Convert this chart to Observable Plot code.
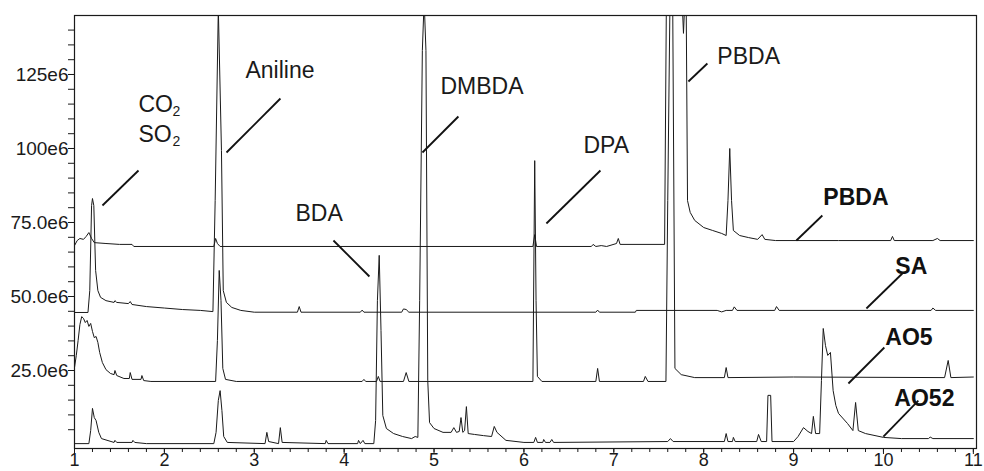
<!DOCTYPE html>
<html><head><meta charset="utf-8">
<script src="https://cdn.jsdelivr.net/npm/d3@7"></script>
<script src="https://cdn.jsdelivr.net/npm/@observablehq/plot@0.6"></script>
<style>html,body{margin:0;padding:0;background:#fff}</style>
</head><body><div id="chart"></div>
<script>
// Retention time (min) and signal (units of 1e6) for each trace
const seriesNames = ["PBDA", "SA", "AO5", "AO52"];

const pbdaTrace = [[1.00,67.2],[1.03,68.9],[1.06,69.6],[1.10,69.3],[1.13,70.3],[1.16,71.6],[1.19,69.6],[1.22,68.2],[1.35,67.9],[1.50,67.6],[1.64,67.6],[1.66,66.9],[2.55,66.9],[2.57,69.6],[2.59,67.9],[2.62,66.9],[6.10,66.9],[6.12,70.9],[6.14,66.9],[6.75,66.9],[6.77,67.6],[6.80,66.9],[6.86,67.2],[6.92,66.9],[7.03,67.9],[7.05,69.6],[7.07,67.6],[7.565,67.6],[7.585,150],[7.76,150],[7.775,138.9],[7.79,150],[7.805,150],[7.82,82.4],[7.85,78.4],[7.90,75.7],[8.00,73.3],[8.10,72.3],[8.20,71.3],[8.25,70.6],[8.27,82.4],[8.29,100.0],[8.31,82.4],[8.33,72.3],[8.40,70.6],[8.50,69.9],[8.60,69.3],[8.65,70.9],[8.68,69.3],[8.80,68.9],[9.50,68.9],[10.08,68.9],[10.10,70.3],[10.12,68.9],[10.55,68.9],[10.60,69.6],[10.63,68.9],[11.00,68.9]];

const saTrace = [[1.00,44.6],[1.15,44.6],[1.17,52.0],[1.19,80.7],[1.20,83.1],[1.215,80.7],[1.235,58.8],[1.26,52.0],[1.29,49.7],[1.35,48.6],[1.44,48.0],[1.45,48.6],[1.47,48.0],[1.60,47.6],[1.62,48.3],[1.64,47.3],[1.80,46.6],[2.00,46.1],[2.20,45.6],[2.40,45.3],[2.54,44.9],[2.565,82.4],[2.60,147.3],[2.635,99.3],[2.655,52.0],[2.69,48.0],[2.75,46.3],[2.85,45.3],[3.00,44.7],[3.48,44.7],[3.50,46.6],[3.52,44.7],[4.18,44.7],[4.20,45.4],[4.22,44.7],[4.64,44.7],[4.66,45.8],[4.69,45.6],[4.72,44.7],[6.80,44.7],[6.82,45.4],[6.84,44.7],[7.24,44.7],[7.25,45.3],[8.15,45.3],[8.20,44.8],[8.25,45.3],[8.32,45.3],[8.34,46.5],[8.37,45.3],[8.79,45.3],[8.81,46.6],[8.84,45.3],[10.53,45.3],[10.55,46.1],[10.58,45.3],[11.00,45.3]];

const ao5Trace = [[1.00,26.0],[1.02,30.1],[1.04,35.1],[1.06,40.5],[1.08,43.2],[1.10,42.6],[1.12,41.2],[1.14,41.9],[1.16,39.9],[1.18,40.9],[1.20,38.2],[1.22,36.1],[1.24,36.5],[1.26,34.5],[1.28,31.1],[1.31,27.7],[1.35,25.3],[1.40,24.0],[1.44,23.6],[1.45,25.0],[1.47,23.3],[1.55,22.3],[1.61,22.3],[1.62,24.3],[1.64,22.0],[1.74,22.0],[1.75,23.3],[1.77,21.6],[1.85,21.3],[2.57,21.3],[2.59,35.1],[2.61,58.8],[2.63,48.6],[2.65,25.7],[2.68,22.0],[2.80,21.3],[4.20,21.3],[4.22,22.0],[4.24,21.3],[4.36,21.3],[4.38,23.0],[4.40,21.3],[4.66,21.3],[4.69,24.3],[4.72,21.3],[6.10,21.3],[6.12,95.9],[6.135,48.6],[6.15,23.0],[6.20,21.3],[6.80,21.3],[6.82,25.7],[6.84,21.3],[7.33,21.3],[7.35,23.0],[7.38,21.3],[7.58,21.3],[7.60,82.4],[7.625,150],[7.655,150],[7.68,25.7],[7.75,23.6],[7.90,22.6],[8.23,22.6],[8.25,26.0],[8.27,22.6],[9.00,22.8],[10.68,22.6],[10.72,28.4],[10.75,22.6],[11.00,22.8]];

const ao52Trace = [[1.00,0.3],[1.16,0.3],[1.18,4.7],[1.20,12.2],[1.22,9.1],[1.24,8.1],[1.27,4.1],[1.30,2.0],[1.44,0.7],[1.45,1.4],[1.47,0.7],[1.64,0.7],[1.65,1.4],[1.67,0.7],[1.80,0.3],[2.55,0.3],[2.575,4.1],[2.60,14.9],[2.62,18.2],[2.64,11.5],[2.66,2.7],[2.70,0.7],[3.12,0.3],[3.14,4.1],[3.16,1.0],[3.27,0.3],[3.29,5.7],[3.31,0.7],[3.79,0.3],[3.80,1.4],[3.82,0.3],[4.15,0.3],[4.16,1.4],[4.18,0.3],[4.21,1.4],[4.23,0.3],[4.33,0.3],[4.35,8.1],[4.37,48.6],[4.39,63.9],[4.41,38.5],[4.43,9.8],[4.47,5.4],[4.55,3.7],[4.65,2.7],[4.75,2.0],[4.79,2.7],[4.82,2.4],[4.84,48.6],[4.87,133.1],[4.89,150],[4.91,133.1],[4.93,21.6],[4.95,7.4],[5.00,5.4],[5.10,4.1],[5.19,4.1],[5.22,5.7],[5.25,4.1],[5.28,4.4],[5.30,9.1],[5.32,4.1],[5.34,4.7],[5.36,12.8],[5.38,3.7],[5.45,3.4],[5.55,3.0],[5.64,2.7],[5.67,6.1],[5.70,4.1],[5.80,1.4],[6.00,0.7],[6.11,0.7],[6.13,2.4],[6.15,0.7],[6.21,0.7],[6.22,1.7],[6.24,0.7],[6.29,0.7],[6.31,1.7],[6.33,0.7],[7.60,1.0],[7.63,2.0],[7.66,1.0],[8.23,1.0],[8.25,3.7],[8.27,1.0],[8.32,1.0],[8.33,2.4],[8.35,1.0],[8.59,1.0],[8.61,3.4],[8.64,1.0],[8.70,1.0],[8.715,16.6],[8.745,16.6],[8.76,1.0],[9.00,1.0],[9.05,2.7],[9.11,5.7],[9.16,4.4],[9.20,3.7],[9.22,9.5],[9.245,3.7],[9.29,3.7],[9.31,21.6],[9.33,39.2],[9.355,33.4],[9.38,30.1],[9.41,31.1],[9.44,18.2],[9.47,13.2],[9.50,10.5],[9.60,7.1],[9.66,4.7],[9.69,14.2],[9.72,4.7],[9.80,3.7],[10.00,2.4],[10.20,2.0],[10.50,2.0],[10.52,2.5],[10.55,2.0],[11.00,2.0]];

// Axis ticks
const xTicks = [1, 2, 3, 4, 5, 6, 7, 8, 9, 10, 11];
const xMinorTicks = d3.range(0, 51).map(i => 1 + i * 0.2);
const yTicks = [25, 50, 75, 100, 125];
const yTickLabels = ["25.0e6", "50.0e6", "75.0e6", "100e6", "125e6"];
const yMinorTicks = d3.range(1, 29).map(i => i * 5);

// Peak annotations (regular) – text anchored at top-left
const peakLabels = ["Aniline", "DMBDA", "DPA", "BDA", "PBDA", "CO", "SO"];
const peakLabelX = [2.902, 5.071, 6.662, 3.458, 8.152, 1.712, 1.712];
const peakLabelY = [129.4, 124.0, 104.05, 81.08, 134.12, 117.91, 107.77];
const subLabels = ["2", "2"];
const subLabelX = [2.09, 2.09];
const subLabelY = [114.3, 104.2];

// Trace names (bold)
const traceLabelX = [9.331, 10.132, 10.021, 10.121];
const traceLabelY = [86.49, 63.18, 39.19, 18.58];

// Leader lines
const leaderX1 = [1.311, 2.691, 4.871, 6.250, 3.881, 7.830, 9.031, 9.810, 9.610, 9.999];
const leaderY1 = [80.74, 98.65, 98.65, 74.66, 68.92, 122.64, 68.92, 45.95, 20.61, 2.70];
const leaderX2 = [1.712, 3.291, 5.271, 6.851, 4.281, 8.041, 9.320, 10.210, 10.010, 10.388];
const leaderY2 = [92.57, 116.89, 110.81, 92.57, 56.76, 128.72, 77.36, 57.77, 32.77, 14.86];

// Build tables
const traces = [pbdaTrace, saTrace, ao5Trace, ao52Trace];
const lineData = traces.flatMap((t, k) => t.map(([x, y]) => ({series: seriesNames[k], x, y})));
const peakTable = peakLabels.map((text, i) => ({text, x: peakLabelX[i], y: peakLabelY[i]}));
const subTable = subLabels.map((text, i) => ({text, x: subLabelX[i], y: subLabelY[i]}));
const traceTable = seriesNames.map((text, i) => ({text, x: traceLabelX[i], y: traceLabelY[i]}));
const leaderTable = leaderX1.map((x1, i) => ({x1, y1: leaderY1[i], x2: leaderX2[i], y2: leaderY2[i]}));
const yLabelMap = new Map(yTicks.map((t, i) => [t, yTickLabels[i]]));

const font = "'Liberation Sans', Arial, Helvetica, sans-serif";

const chart = Plot.plot({
  width: 984,
  height: 471,
  marginLeft: 74,
  marginRight: 8,
  marginTop: 15,
  marginBottom: 23,
  style: {fontFamily: font, fontSize: "19px", color: "#1a1a1a", background: "#fff"},
  x: {domain: [1, 11.035], axis: null},
  y: {domain: [-1.35, 144.93], axis: null},
  marks: [
    Plot.axisX(xMinorTicks, {anchor: "bottom", tickSize: 4, tickFormat: () => "", stroke: "#1a1a1a"}),
    Plot.axisX(xTicks, {anchor: "bottom", tickSize: 6, tickPadding: -1, fontSize: 18, stroke: "#1a1a1a", fill: "#1a1a1a"}),
    Plot.axisY(yMinorTicks, {anchor: "left", tickSize: 6, tickFormat: () => "", stroke: "#1a1a1a"}),
    Plot.axisY(yTicks, {anchor: "left", tickSize: 6, tickPadding: 0, fontSize: 19, tickFormat: d => yLabelMap.get(d), stroke: "#1a1a1a", fill: "#1a1a1a"}),
    Plot.line(lineData, {x: "x", y: "y", z: "series", stroke: "#1a1a1a", strokeWidth: 1, clip: true}),
    Plot.frame({stroke: "#1a1a1a", strokeWidth: 1.2}),
    Plot.link(leaderTable, {x1: "x1", y1: "y1", x2: "x2", y2: "y2", stroke: "#111", strokeWidth: 1.8}),
    Plot.text(peakTable, {x: "x", y: "y", text: "text", textAnchor: "start", lineAnchor: "top", fontSize: 23, fontFamily: font, fill: "#1a1a1a"}),
    Plot.text(subTable, {x: "x", y: "y", text: "text", textAnchor: "start", lineAnchor: "top", fontSize: 14, fontFamily: font, fill: "#1a1a1a"}),
    Plot.text(traceTable, {x: "x", y: "y", text: "text", textAnchor: "start", lineAnchor: "top", fontSize: 23, fontWeight: "bold", fontFamily: font, fill: "#111"})
  ]
});
document.getElementById("chart").appendChild(chart);
</script>
</body></html>
